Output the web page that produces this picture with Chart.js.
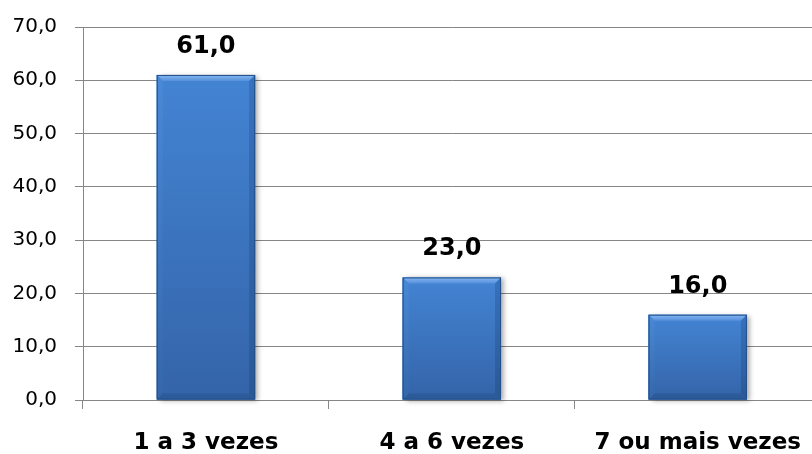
<!DOCTYPE html>
<html>
<head>
<meta charset="utf-8">
<script src="https://cdn.jsdelivr.net/npm/chart.js@4/dist/chart.umd.min.js"></script>
<style>
  html, body { margin: 0; padding: 0; background: #fff; overflow: hidden; }
  #wrap { width: 821px; height: 454px; position: relative; }
</style>
</head>
<body>
<div id="wrap"><canvas id="c"></canvas></div>
<script>
const categories = ['1 a 3 vezes', '4 a 6 vezes', '7 ou mais vezes'];
const values = [61.0, 23.0, 16.0];
const yTicks = [0, 10, 20, 30, 40, 50, 60, 70];

const fmt = v => v.toFixed(1).replace('.', ',');
const FONT = "'DejaVu Sans', sans-serif";

// Bevel, outline and drop shadow for each bar, plus value labels above them
const bevelBars = {
  id: 'bevelBars',
  beforeDatasetsDraw(chart) {
    const ctx = chart.ctx;
    chart.getDatasetMeta(0).data.forEach(bar => {
      const l = bar.x - bar.width / 2, r = bar.x + bar.width / 2;
      const t = bar.y, b = bar.base;
      ctx.save();
      ctx.shadowColor = 'rgba(0,0,0,0.35)';
      ctx.shadowBlur = 5;
      ctx.shadowOffsetX = 3;
      ctx.shadowOffsetY = 1;
      ctx.fillStyle = '#2f62a3';
      ctx.fillRect(l, t, r - l, b - t);
      ctx.restore();
    });
  },
  afterDatasetsDraw(chart) {
    const ctx = chart.ctx;
    const e = 6;
    chart.getDatasetMeta(0).data.forEach(bar => {
      const l = bar.x - bar.width / 2, r = bar.x + bar.width / 2;
      const t = bar.y, b = bar.base;
      ctx.save();
      const g = ctx.createLinearGradient(0, t, 0, b);
      g.addColorStop(0, '#4384d3');
      g.addColorStop(1, '#3464a9');
      ctx.fillStyle = g;
      ctx.fillRect(l, t, r - l, b - t);
      // top bevel
      const gt = ctx.createLinearGradient(0, t, 0, t + e);
      gt.addColorStop(0, '#86b8f0'); gt.addColorStop(1, '#5690dc');
      ctx.fillStyle = gt;
      ctx.beginPath(); ctx.moveTo(l, t); ctx.lineTo(r, t); ctx.lineTo(r - e, t + e); ctx.lineTo(l + e, t + e); ctx.closePath(); ctx.fill();
      // left bevel
      const gl = ctx.createLinearGradient(0, t, 0, b);
      gl.addColorStop(0, '#4a89d6'); gl.addColorStop(1, '#3467aa');
      ctx.fillStyle = gl;
      ctx.beginPath(); ctx.moveTo(l, t); ctx.lineTo(l + e, t + e); ctx.lineTo(l + e, b - e); ctx.lineTo(l, b); ctx.closePath(); ctx.fill();
      // right bevel
      const gr = ctx.createLinearGradient(0, t, 0, b);
      gr.addColorStop(0, '#3672bd'); gr.addColorStop(1, '#2b5894');
      ctx.fillStyle = gr;
      ctx.beginPath(); ctx.moveTo(r, t); ctx.lineTo(r, b); ctx.lineTo(r - e, b - e); ctx.lineTo(r - e, t + e); ctx.closePath(); ctx.fill();
      // bottom bevel
      ctx.fillStyle = '#2d5b99';
      ctx.beginPath(); ctx.moveTo(l, b); ctx.lineTo(r, b); ctx.lineTo(r - e, b - e); ctx.lineTo(l + e, b - e); ctx.closePath(); ctx.fill();
      // outline
      ctx.strokeStyle = '#22508c';
      ctx.lineWidth = 1;
      ctx.strokeRect(l + 0.5, t + 0.5, r - l - 1, b - t - 1);
      ctx.restore();
    });
  },
  afterDraw(chart) {
    const ctx = chart.ctx;
    ctx.save();
    ctx.font = "bold 24px " + FONT;
    ctx.fillStyle = '#000';
    ctx.textAlign = 'center';
    ctx.textBaseline = 'alphabetic';
    chart.getDatasetMeta(0).data.forEach((bar, i) => {
      ctx.fillText(fmt(values[i]), bar.x, bar.y - 22);
    });
    ctx.restore();
  }
};

new Chart(document.getElementById('c'), {
  type: 'bar',
  data: {
    labels: categories,
    datasets: [{
      data: values,
      backgroundColor: 'rgba(0,0,0,0)',
      borderWidth: 0,
      categoryPercentage: 1,
      barPercentage: 0.4
    }]
  },
  options: {
    responsive: true,
    maintainAspectRatio: false,
    animation: false,
    layout: { padding: { top: 27, right: 0, left: 0, bottom: 0 } },
    plugins: { legend: { display: false }, tooltip: { enabled: false } },
    scales: {
      x: {
        grid: { display: true, drawOnChartArea: false, drawTicks: true, tickLength: 9, color: '#868686', offset: true },
        border: { display: true, color: '#868686' },
        ticks: { color: '#000', font: { family: FONT, size: 23, weight: 'bold' }, padding: 20 },
        afterFit(s) { s.height = 54; }
      },
      y: {
        min: 0, max: 70,
        afterBuildTicks(s) { s.ticks = yTicks.map(v => ({ value: v })); },
        grid: { color: '#868686', tickLength: 8 },
        border: { display: true, color: '#868686' },
        ticks: { color: '#000', font: { family: FONT, size: 20 }, padding: 18, callback: v => fmt(v) },
        afterFit(s) { s.width = 83; s.paddingTop = 0; s.paddingBottom = 0; }
      }
    }
  },
  plugins: [bevelBars]
});
</script>
</body>
</html>
